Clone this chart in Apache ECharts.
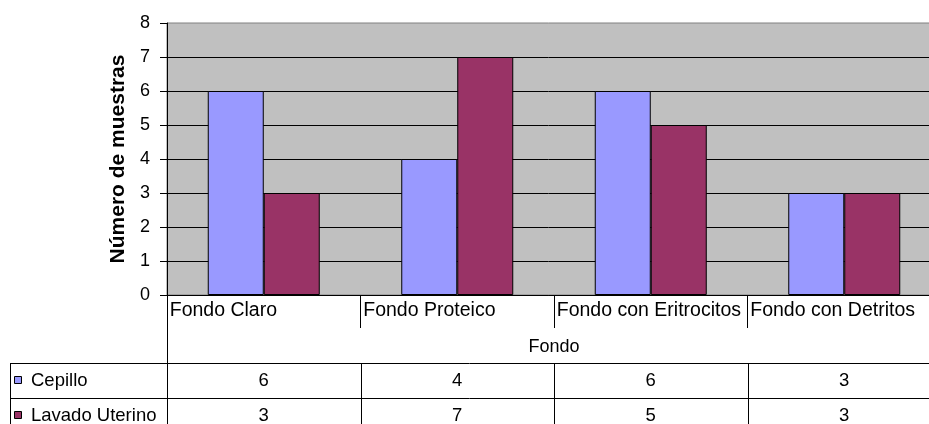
<!DOCTYPE html>
<html>
<head>
<meta charset="utf-8">
<script src="https://cdn.jsdelivr.net/npm/echarts@6/dist/echarts.min.js"></script>
<style>
  body { margin: 0; background: #fff; }
  #main { width: 929px; height: 424px; }
</style>
</head>
<body>
<div id="main"></div>
<script>
// data
var categories = ['Fondo Claro', 'Fondo Proteico', 'Fondo con Eritrocitos', 'Fondo con Detritos'];
var cepillo = [6, 4, 6, 3];
var lavado = [3, 7, 5, 3];
var seriesNames = ['Cepillo', 'Lavado Uterino'];
var seriesColors = ['#9999FF', '#993366'];

var font = '"Liberation Sans", Arial, sans-serif';
var gridLeft = 167, gridTop = 23, gridW = 774, gridH = 272;

var myChart = echarts.init(document.getElementById('main'));

var option = {
  animation: false,
  textStyle: { fontFamily: font },
  grid: {
    left: gridLeft, top: gridTop, width: gridW, height: gridH,
    outerBoundsMode: 'none', containLabel: false,
    show: true, backgroundColor: '#C0C0C0', borderColor: '#808080', borderWidth: 1
  },
  xAxis: {
    type: 'category',
    data: categories,
    name: 'Fondo',
    nameLocation: 'middle',
    nameGap: 52,
    nameTextStyle: { fontSize: 18, color: '#000', verticalAlign: 'middle' },
    axisLine: { show: true, lineStyle: { color: '#000' } },
    axisTick: { show: true, interval: 0, length: 33, lineStyle: { color: '#000' } },
    axisLabel: {
      interval: 0, margin: 6, color: '#000', fontSize: 19.5,
      formatter: function (v) { return '{a|' + v + '}'; },
      rich: { a: { width: 188, align: 'left', fontSize: 19.5, color: '#000' } }
    },
    splitLine: { show: false }
  },
  yAxis: {
    type: 'value',
    min: 0, max: 8, interval: 1,
    name: 'Número de muestras',
    nameLocation: 'middle',
    nameGap: 37,
    nameRotate: 90,
    nameTextStyle: { fontWeight: 'bold', fontSize: 21, color: '#000', verticalAlign: 'middle' },
    axisLine: { show: true, lineStyle: { color: '#000' } },
    axisTick: { show: true, length: 7, lineStyle: { color: '#000' } },
    axisLabel: { color: '#000', fontSize: 18, margin: 17 },
    splitLine: { show: true, showMaxLine: false, lineStyle: { color: '#000', width: 1 } }
  },
  series: [
    {
      name: seriesNames[0], type: 'bar', data: cepillo,
      barWidth: 56, barGap: '0%',
      itemStyle: { color: seriesColors[0], borderColor: '#000', borderWidth: 1 }
    },
    {
      name: seriesNames[1], type: 'bar', data: lavado,
      barWidth: 56, barGap: '0%',
      itemStyle: { color: seriesColors[1], borderColor: '#000', borderWidth: 1 }
    }
  ]
};
myChart.setOption(option);

// data table under the axis
var rowTop = 363, rowH = 35, tableLeft = 10;
var centers = categories.map(function (c) { return myChart.convertToPixel({ xAxisIndex: 0 }, c); });
var half = (centers[1] - centers[0]) / 2;
var rows = [cepillo, lavado];
var g = [];
function line(x1, y1, x2, y2) {
  g.push({ type: 'line', silent: true, shape: { x1: x1, y1: y1, x2: x2, y2: y2 },
    style: { stroke: '#000', lineWidth: 1 } });
}
function text(t, x, y, align) {
  g.push({ type: 'text', silent: true,
    style: { text: t, x: x, y: y, fill: '#000', font: '18.5px ' + font, align: align, verticalAlign: 'middle' } });
}
var bottomY = 424;
line(tableLeft + 0.5, rowTop, tableLeft + 0.5, bottomY);
line(Math.round(centers[0] - half) + 0.5, gridTop + gridH, Math.round(centers[0] - half) + 0.5, bottomY);
for (var r = 0; r < rows.length; r++) {
  var y = rowTop + r * rowH + 0.5;
  line(tableLeft, y, 929, y);
  var cy = rowTop + r * rowH + rowH / 2;
  g.push({ type: 'rect', silent: true, shape: { x: 14.5, y: Math.round(cy) - 4.5, width: 7, height: 7 },
    style: { fill: seriesColors[r], stroke: '#000', lineWidth: 1 } });
  text(seriesNames[r], 31, cy, 'left');
  for (var i = 0; i < categories.length; i++) {
    text(String(rows[r][i]), centers[i], cy, 'center');
  }
}
for (var i = 0; i < categories.length; i++) {
  var bx = Math.round(centers[i] + half) + 0.5;
  line(bx, rowTop, bx, bottomY);
}
myChart.setOption({ graphic: g });
</script>
</body>
</html>
